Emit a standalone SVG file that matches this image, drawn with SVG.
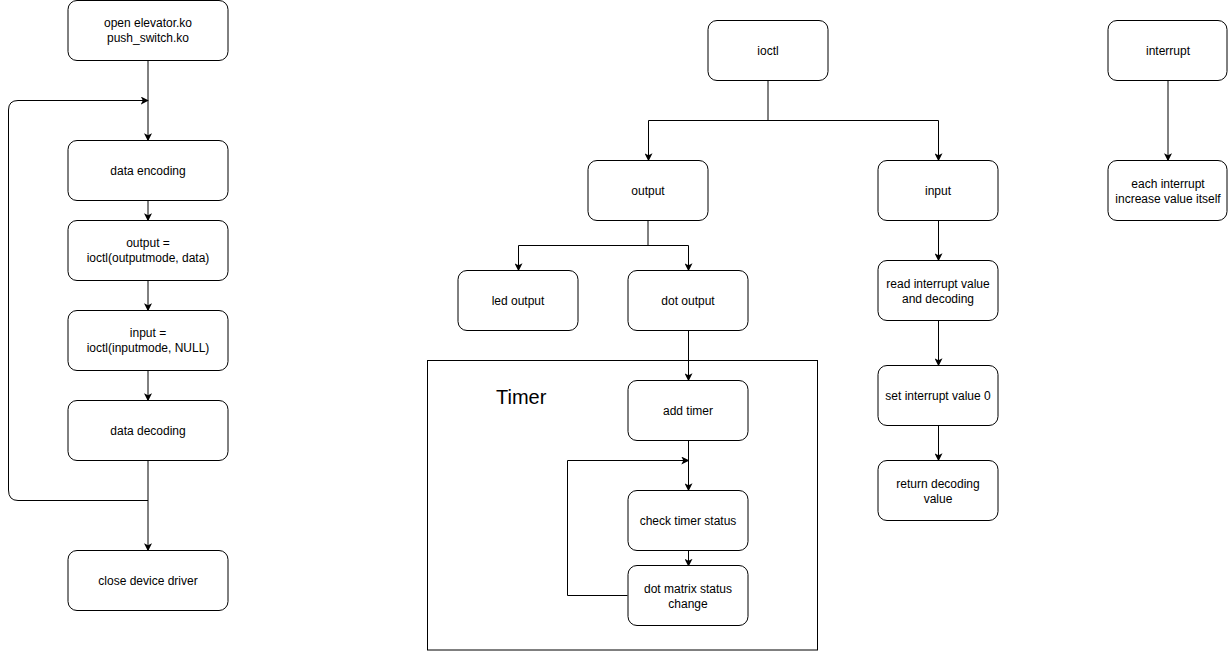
<svg xmlns="http://www.w3.org/2000/svg" width="1228" height="651" viewBox="0 0 1228 651">
  <defs>
    <marker id="arrow" viewBox="0 0 10 10" refX="9" refY="5" markerWidth="8" markerHeight="8" markerUnits="userSpaceOnUse" orient="auto">
      <path d="M0,0 L10,5 L0,10 L2.5,5 z" fill="#000"/>
    </marker>
  </defs>
  <style>
    .node rect { fill: #fff; stroke: #000; stroke-width: 1; }
    .node text, .label { font-family: "Liberation Sans", Arial, sans-serif; font-size: 12px; fill: #000; text-anchor: middle; }
    .edge { fill: none; stroke: #000; stroke-width: 1; }
    .arr { marker-end: url(#arrow); }
    .frame { fill: none; stroke: #000; stroke-width: 1; }
    .title { font-family: "Liberation Sans", Arial, sans-serif; font-size: 20px; fill: #000; }
  </style>
  <rect width="1228" height="651" fill="#fff"/>

  <!-- Timer frame -->
  <g id="timer-frame">
    <rect class="frame" x="427.5" y="360.5" width="390" height="289.5"/>
    <text class="title" x="496" y="404">Timer</text>
  </g>

  <!-- connectors -->
  <g id="connectors">
    <!-- left column -->
    <path class="edge arr" d="M148,60.5 V140.5"/>
    <path class="edge arr" d="M148,500.5 H18 Q8.5,500.5 8.5,490 V110 Q8.5,100.5 18,100.5 H148"/>
    <path class="edge arr" d="M148,200.5 V220.5"/>
    <path class="edge arr" d="M148,280.5 V310.5"/>
    <path class="edge arr" d="M148,370.5 V400.5"/>
    <path class="edge arr" d="M148,460.5 V550.5"/>
    <!-- ioctl tree -->
    <path class="edge" d="M768,80.5 V120.5"/>
    <path class="edge arr" d="M768,120.5 H648.5 V160.5"/>
    <path class="edge arr" d="M768,120.5 H938.5 V160.5"/>
    <path class="edge" d="M648,220.5 V245.5"/>
    <path class="edge arr" d="M648,245.5 H518.5 V270.5"/>
    <path class="edge arr" d="M648,245.5 H688.5 V270.5"/>
    <path class="edge arr" d="M688.5,330.5 V380.5"/>
    <path class="edge arr" d="M688.5,440.5 V490.5"/>
    <path class="edge arr" d="M688.5,550.5 V566"/>
    <path class="edge" d="M688.5,560 V570"/>
    <path class="edge arr" d="M627.5,595.5 H567.5 V460.5 H688.5"/>
    <!-- input chain -->
    <path class="edge arr" d="M938.5,220.5 V260.5"/>
    <path class="edge arr" d="M938.5,320.5 V365.5"/>
    <path class="edge arr" d="M938.5,425.5 V460.5"/>
    <!-- interrupt -->
    <path class="edge arr" d="M1168,80.5 V160.5"/>
  </g>

  <!-- left column -->
  <g id="open" class="node">
    <rect x="68" y="0.5" width="160" height="60" rx="9"/>
    <text x="148" y="27">open elevator.ko</text>
    <text x="148" y="42">push_switch.ko</text>
  </g>
  <g id="encode" class="node">
    <rect x="68" y="140.5" width="160" height="60" rx="9"/>
    <text x="148" y="175">data encoding</text>
  </g>
  <g id="output-call" class="node">
    <rect x="68" y="220.5" width="160" height="60" rx="9"/>
    <text x="148" y="247">output =</text>
    <text x="148" y="262">ioctl(outputmode, data)</text>
  </g>
  <g id="input-call" class="node">
    <rect x="68" y="310.5" width="160" height="60" rx="9"/>
    <text x="148" y="337">input =</text>
    <text x="148" y="352">ioctl(inputmode, NULL)</text>
  </g>
  <g id="decode" class="node">
    <rect x="68" y="400.5" width="160" height="60" rx="9"/>
    <text x="148" y="435">data decoding</text>
  </g>
  <g id="close" class="node">
    <rect x="68" y="550.5" width="160" height="60" rx="9"/>
    <text x="148" y="585">close device driver</text>
  </g>

  <!-- ioctl tree -->
  <g id="ioctl" class="node">
    <rect x="708" y="20.5" width="120" height="60" rx="9"/>
    <text x="768" y="55">ioctl</text>
  </g>
  <g id="output" class="node">
    <rect x="588" y="160.5" width="120" height="60" rx="9"/>
    <text x="648" y="195">output</text>
  </g>
  <g id="input" class="node">
    <rect x="878" y="160.5" width="120" height="60" rx="9"/>
    <text x="938" y="195">input</text>
  </g>
  <g id="led" class="node">
    <rect x="458" y="270.5" width="120" height="60" rx="9"/>
    <text x="518" y="305">led output</text>
  </g>
  <g id="dot" class="node">
    <rect x="628" y="270.5" width="120" height="60" rx="9"/>
    <text x="688" y="305">dot output</text>
  </g>
  <g id="add-timer" class="node">
    <rect x="628" y="380.5" width="120" height="60" rx="9"/>
    <text x="688" y="415">add timer</text>
  </g>
  <g id="check-timer" class="node">
    <rect x="628" y="490.5" width="120" height="60" rx="9"/>
    <text x="688" y="525">check timer status</text>
  </g>
  <g id="dot-matrix" class="node">
    <rect x="628" y="565.5" width="120" height="60" rx="9"/>
    <text x="688" y="593">dot matrix status</text>
    <text x="688" y="608">change</text>
  </g>
  <g id="read-int" class="node">
    <rect x="878" y="260.5" width="120" height="60" rx="9"/>
    <text x="938" y="288">read interrupt value</text>
    <text x="938" y="303">and decoding</text>
  </g>
  <g id="set-int" class="node">
    <rect x="878" y="365.5" width="120" height="60" rx="9"/>
    <text x="938" y="400">set interrupt value 0</text>
  </g>
  <g id="return" class="node">
    <rect x="878" y="460.5" width="120" height="60" rx="9"/>
    <text x="938" y="488">return decoding</text>
    <text x="938" y="503">value</text>
  </g>

  <!-- interrupt -->
  <g id="interrupt" class="node">
    <rect x="1108" y="20.5" width="119" height="60" rx="9"/>
    <text x="1168" y="55">interrupt</text>
  </g>
  <g id="each-int" class="node">
    <rect x="1108" y="160.5" width="119" height="60" rx="9"/>
    <text x="1168" y="188">each interrupt</text>
    <text x="1168" y="203">increase value itself</text>
  </g>
</svg>
